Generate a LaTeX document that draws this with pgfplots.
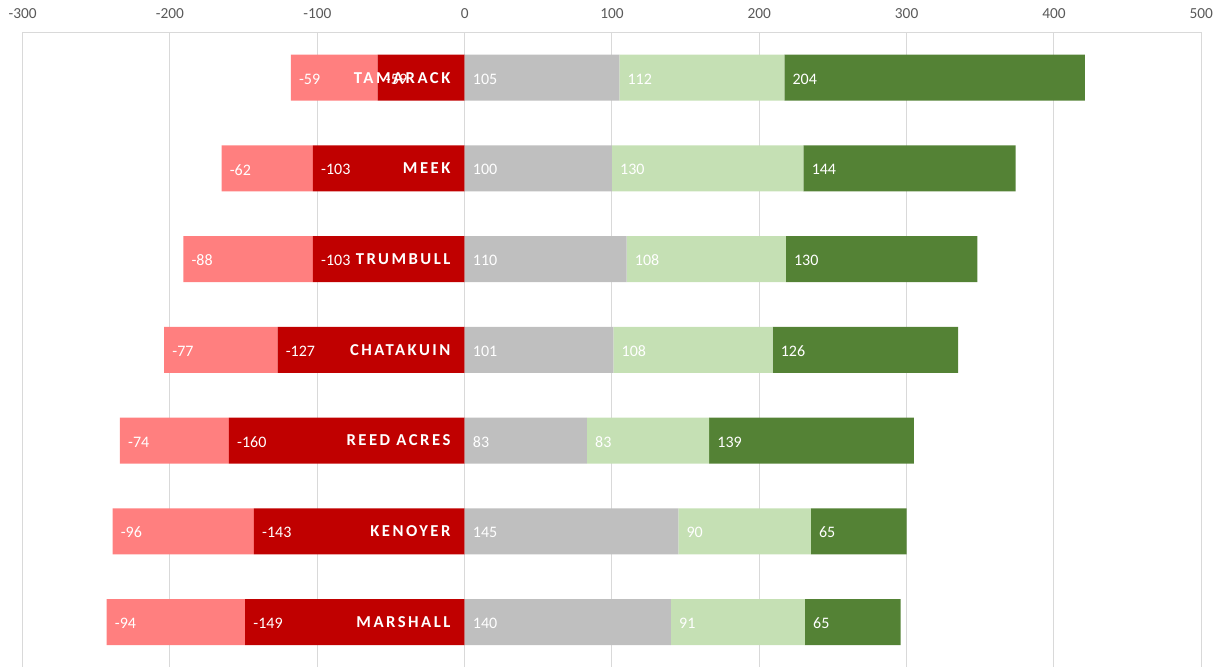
\documentclass[border=0pt]{standalone}
\usepackage{pgfplots}
\usepackage{pgfplotstable}
\pgfplotsset{compat=1.18}
\usepackage{fontspec}
\setmainfont{Carlito}
\newfontfamily\catfont[LetterSpace=15]{Carlito}
\definecolor{lred}{HTML}{FF7F7F}
\definecolor{dred}{HTML}{C00000}
\definecolor{gry}{HTML}{BFBFBF}
\definecolor{lgrn}{HTML}{C5E0B4}
\definecolor{dgrn}{HTML}{548235}
\definecolor{gridc}{HTML}{D9D9D9}
\definecolor{tickc}{HTML}{595959}

\pgfplotstableread{
y dred lred gray lgrn dgrn
0 -59 -59 105 112 204
1 -103 -62 100 130 144
2 -103 -88 110 108 130
3 -127 -77 101 108 126
4 -160 -74 83 83 139
5 -143 -96 145 90 65
6 -149 -94 140 91 65
}\data

% 883.9pt / 800 units = 1.104875pt per unit
\pgfplotsset{common/.style={
  at={(0,0)}, anchor=south west, scale only axis,
  width=883.9pt, height=476.25pt,
  xmin=-300, xmax=500, ymin=-0.5, ymax=6.5, y dir=reverse,
  xbar stacked, bar width=34.5pt,
  /pgf/number format/assume math mode=true,
  major tick length=0pt,
  point meta=rawx,
  visualization depends on={rawx \as \rawxv},
  nodes near coords={\pgfmathprintnumber{\pgfplotspointmeta}},
  every node near coord/.append style={font=\fontsize{12}{14}\selectfont, text=white, inner sep=0pt, anchor=west, yshift=-1pt},
  clip=false,
}}

\begin{document}
\begin{tikzpicture}
\begin{axis}[common,
  axis x line*=top,
  axis y line*=box,
  xtick={-300,-200,...,500},
  xticklabel pos=upper,
  xmajorgrids,
  grid style={gridc, line width=0.75pt},
  axis line style={gridc, line width=0.75pt},
  ytick=\empty,
  xticklabel style={text=tickc, font=\fontsize{11.5}{13}\selectfont, anchor=south, inner sep=0pt, yshift=10pt},
  every node near coord/.append style={xshift={0.5*(\rawxv)*1.104875pt+6pt}},
]
\addplot[fill=dred, draw=none] table[x=dred,y=y]{\data};
\addplot[fill=lred, draw=none] table[x=lred,y=y]{\data};
\end{axis}
\begin{axis}[common,
  axis line style={draw=none},
  xtick=\empty,
  ytick={0,...,6},
  yticklabels={TAMARACK,MEEK,TRUMBULL,CHATAKUIN,REED ACRES,KENOYER,MARSHALL},
  yticklabel style={anchor=east, inner sep=0pt, text=white, font=\catfont\bfseries\fontsize{12.5}{14}\selectfont, xshift=321pt},
  every node near coord/.append style={xshift={-0.5*(\rawxv)*1.104875pt+6pt}},
]
\addplot[fill=gry, draw=none] table[x=gray,y=y]{\data};
\addplot[fill=lgrn, draw=none] table[x=lgrn,y=y]{\data};
\addplot[fill=dgrn, draw=none] table[x=dgrn,y=y]{\data};
\end{axis}
\pgfresetboundingbox
\useasboundingbox (-17pt,-0.5pt) rectangle (903.2pt,500.5pt);
\end{tikzpicture}
\end{document}
